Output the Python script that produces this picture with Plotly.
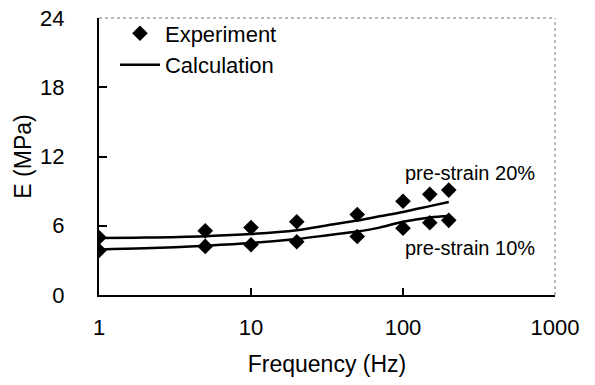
import plotly.graph_objects as go

# Storage modulus vs. frequency for two pre-strain levels
freq_exp = [1, 5, 10, 20, 50, 100, 150, 200]
e_exp_20 = [4.98, 5.56, 5.84, 6.35, 6.98, 8.12, 8.72, 9.09]
e_exp_10 = [3.86, 4.21, 4.36, 4.62, 5.07, 5.79, 6.26, 6.47]

freq_calc = [1, 2, 5, 10, 20, 32, 50, 70, 100, 150, 200]
e_calc_20 = [4.94, 4.98, 5.1, 5.28, 5.62, 6.05, 6.45, 6.82, 7.2, 7.7, 8.06]
e_calc_10 = [3.94, 4.04, 4.27, 4.5, 4.85, 5.18, 5.5, 5.84, 6.35, 6.72, 6.85]

label_20 = "pre-strain 20%"
label_10 = "pre-strain 10%"

FONT = "Liberation Sans, Arial, sans-serif"

fig = go.Figure()

fig.add_trace(go.Scatter(
    x=freq_exp, y=e_exp_20, mode="markers", name="Experiment",
    legendgroup="exp", showlegend=True,
    marker=dict(symbol="diamond", size=12, color="black"),
))
fig.add_trace(go.Scatter(
    x=freq_exp, y=e_exp_10, mode="markers", name="Experiment",
    legendgroup="exp", showlegend=False,
    marker=dict(symbol="diamond", size=12, color="black"),
))
fig.add_trace(go.Scatter(
    x=freq_calc, y=e_calc_20, mode="lines", name="Calculation",
    legendgroup="calc", showlegend=True, line_shape="spline",
    line=dict(color="black", width=2.5),
))
fig.add_trace(go.Scatter(
    x=freq_calc, y=e_calc_10, mode="lines", name="Calculation",
    legendgroup="calc", showlegend=False, line_shape="spline",
    line=dict(color="black", width=2.5),
))

fig.add_annotation(x=2.0, y=10.6, xref="x", yref="y", text=label_20,
                   showarrow=False, xanchor="left",
                   font=dict(family=FONT, size=20, color="black"))
fig.add_annotation(x=2.0, y=4.1, xref="x", yref="y", text=label_10,
                   showarrow=False, xanchor="left",
                   font=dict(family=FONT, size=20, color="black"))

# faint top/right frame
fig.add_shape(type="line", xref="paper", yref="paper", x0=0, x1=1, y0=1, y1=1,
              line=dict(color="#777", width=1, dash="dot"))
fig.add_shape(type="line", xref="paper", yref="paper", x0=1, x1=1, y0=0, y1=1,
              line=dict(color="#777", width=1, dash="dot"))

fig.update_layout(
    width=595, height=385,
    margin=dict(l=99, r=40, t=13, b=90),
    paper_bgcolor="white", plot_bgcolor="white",
    font=dict(family=FONT, size=22, color="black"),
    showlegend=True,
    legend=dict(x=0.035, y=1.02, xanchor="left", yanchor="top",
                bgcolor="rgba(0,0,0,0)", font=dict(size=22),
                itemwidth=40, tracegroupgap=0),
)

fig.update_xaxes(
    type="log", range=[0, 3], automargin=False,
    tickvals=[1, 10, 100, 1000], ticktext=["1", "10", "100", "1000"],
    ticks="inside", ticklen=7, tickwidth=1.5, tickcolor="black",
    showline=True, linecolor="black", linewidth=2, mirror=False,
    showgrid=False, zeroline=False, ticklabelstandoff=12,
    title=dict(text="Frequency (Hz)", standoff=16, font=dict(size=23)),
)
fig.update_yaxes(
    range=[0, 24], tickvals=[0, 6, 12, 18, 24], automargin=False,
    ticks="inside", ticklen=8, tickwidth=1.5, tickcolor="black",
    showline=True, linecolor="black", linewidth=2, mirror=False,
    showgrid=False, zeroline=False, ticklabelstandoff=28,
    title=dict(text="E (MPa)", standoff=2, font=dict(size=23)),
)

fig.write_html("out.html")
